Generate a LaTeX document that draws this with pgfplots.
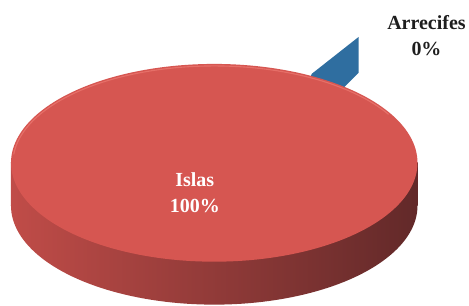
\documentclass[border=0pt]{standalone}
\usepackage{fontspec}
\setmainfont{Liberation Serif}
\usepackage{pgfplots}
\pgfplotsset{compat=1.18}
\definecolor{topred}{RGB}{214,86,81}
\definecolor{sideL}{RGB}{192,76,72}
\definecolor{sideM}{RGB}{150,60,58}
\definecolor{sideR}{RGB}{98,41,41}
\definecolor{rimlight}{RGB}{236,120,112}
\definecolor{sliceblue}{RGB}{47,110,160}
\definecolor{txt}{RGB}{30,30,30}
\begin{document}
\begin{tikzpicture}
\begin{axis}[width=469pt,height=306pt,scale only axis,
  xmin=0,xmax=469,ymin=0,ymax=306,y dir=reverse,
  hide axis,clip=false]
% bounding box
\path (axis cs:0,0) rectangle (axis cs:469,306);
% Arrecifes slice: 0 % (only its wall is visible)
\addplot[fill=sliceblue,draw=none] coordinates {(312,74)(359,37)(359,73)(340,92)(300,110)} -- cycle;
% Islas slice: 100 % -- side wall
\addplot[draw=none,left color=sideL,middle color=sideM,right color=sideR,domain=0:360,samples=181]
  ({214.5+203.5*cos(x)},{206+99*sin(x)}) -- cycle;
\addplot[draw=none,left color=sideL,middle color=sideM,right color=sideR]
  coordinates {(11,163)(418,163)(418,206)(11,206)} -- cycle;
% top face
\addplot[fill=topred,draw=none,domain=0:360,samples=181]
  ({214.5+203.5*cos(x)},{163+99*sin(x)}) -- cycle;
\addplot[draw=rimlight,line width=1.1pt,opacity=0.75,domain=185:330,samples=100]
  ({214.5+201.5*cos(x)},{163+97*sin(x)});
\node[align=center,font=\fontsize{20}{26}\selectfont\bfseries,text=white] at (axis cs:195,193) {Islas\\100\%};
\node[align=center,font=\fontsize{20}{26}\selectfont\bfseries,text=txt] at (axis cs:427,36) {Arrecifes\\0\%};
\end{axis}
\end{tikzpicture}
\end{document}
